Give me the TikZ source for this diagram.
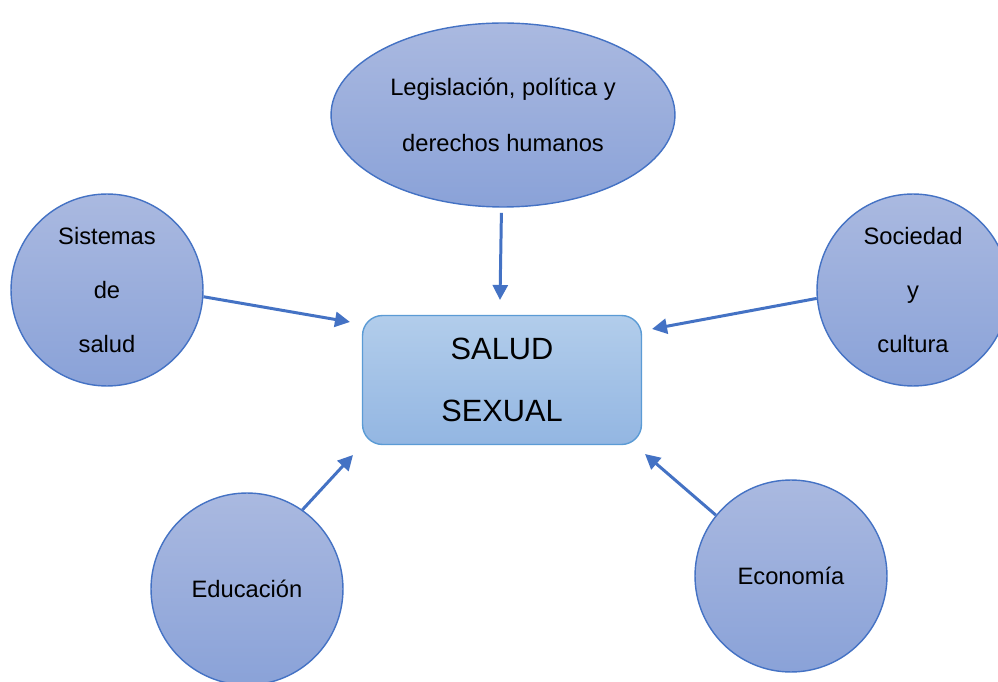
\documentclass[tikz,border=0pt]{standalone}
\usepackage{fontspec}
\setmainfont{Liberation Sans}
\usepackage{tikz}
\usetikzlibrary{arrows.meta,shapes.geometric}
\definecolor{borde}{HTML}{4472C4}
\definecolor{altoc}{HTML}{AAB9E0}
\definecolor{bajoc}{HTML}{8AA2D8}
\definecolor{borderect}{HTML}{5B9BD5}
\definecolor{altor}{HTML}{B2CDEB}
\definecolor{bajor}{HTML}{93B6E2}
\tikzset{
  circ/.style={circle, draw=borde, line width=0.8pt, top color=altoc, bottom color=bajoc,
    minimum size=3.84cm, inner sep=0pt, align=center, font=\fontsize{13.5}{31}\selectfont},
  elli/.style={ellipse, draw=borde, line width=0.8pt, top color=altoc, bottom color=bajoc,
    minimum width=6.88cm, minimum height=3.68cm, inner sep=0pt, align=center,
    font=\fontsize{13.5}{32}\selectfont},
  caja/.style={rectangle, rounded corners=0.4cm, draw=borderect, line width=0.8pt,
    top color=altor, bottom color=bajor, minimum width=5.58cm, minimum height=2.58cm,
    align=center, font=\fontsize{17.5}{35}\selectfont},
  flecha/.style={draw=borde, line width=1.7pt, -{Triangle[length=0.3cm,width=0.3cm]}},
}
\begin{document}
\begin{tikzpicture}[x=0.02cm,y=-0.02cm]
\clip (0,0) rectangle (998,682);
\fill[white] (0,0) rectangle (998,682);

% centre
\node[caja] (salud) at (502,380) {SALUD\\SEXUAL};

% factores
\node[elli] (leg) at (503,115) {Legislación, política y\\derechos humanos};
\node[circ] (sis) at (107,290) {Sistemas\\de\\salud};
\node[circ] (soc) at (913,290) {Sociedad\\y\\cultura};
\node[circ] (edu) at (247,589) {Educación};
\node[circ] (eco) at (791,576) {Economía};

% puntas de flecha
\coordinate (pT) at (500,300);
\coordinate (pL) at (350,322);
\coordinate (pR) at (652,329);
\coordinate (pBL) at (353,455);
\coordinate (pBR) at (645,454);

\draw[flecha, shorten <=3pt] (leg) -- (pT);
\draw[flecha] (sis.-4) -- (pL);
\draw[flecha] (soc.185) -- (pR);
\draw[flecha] (edu.55) -- (pBL);
\draw[flecha] (eco.141) -- (pBR);
\end{tikzpicture}
\end{document}
